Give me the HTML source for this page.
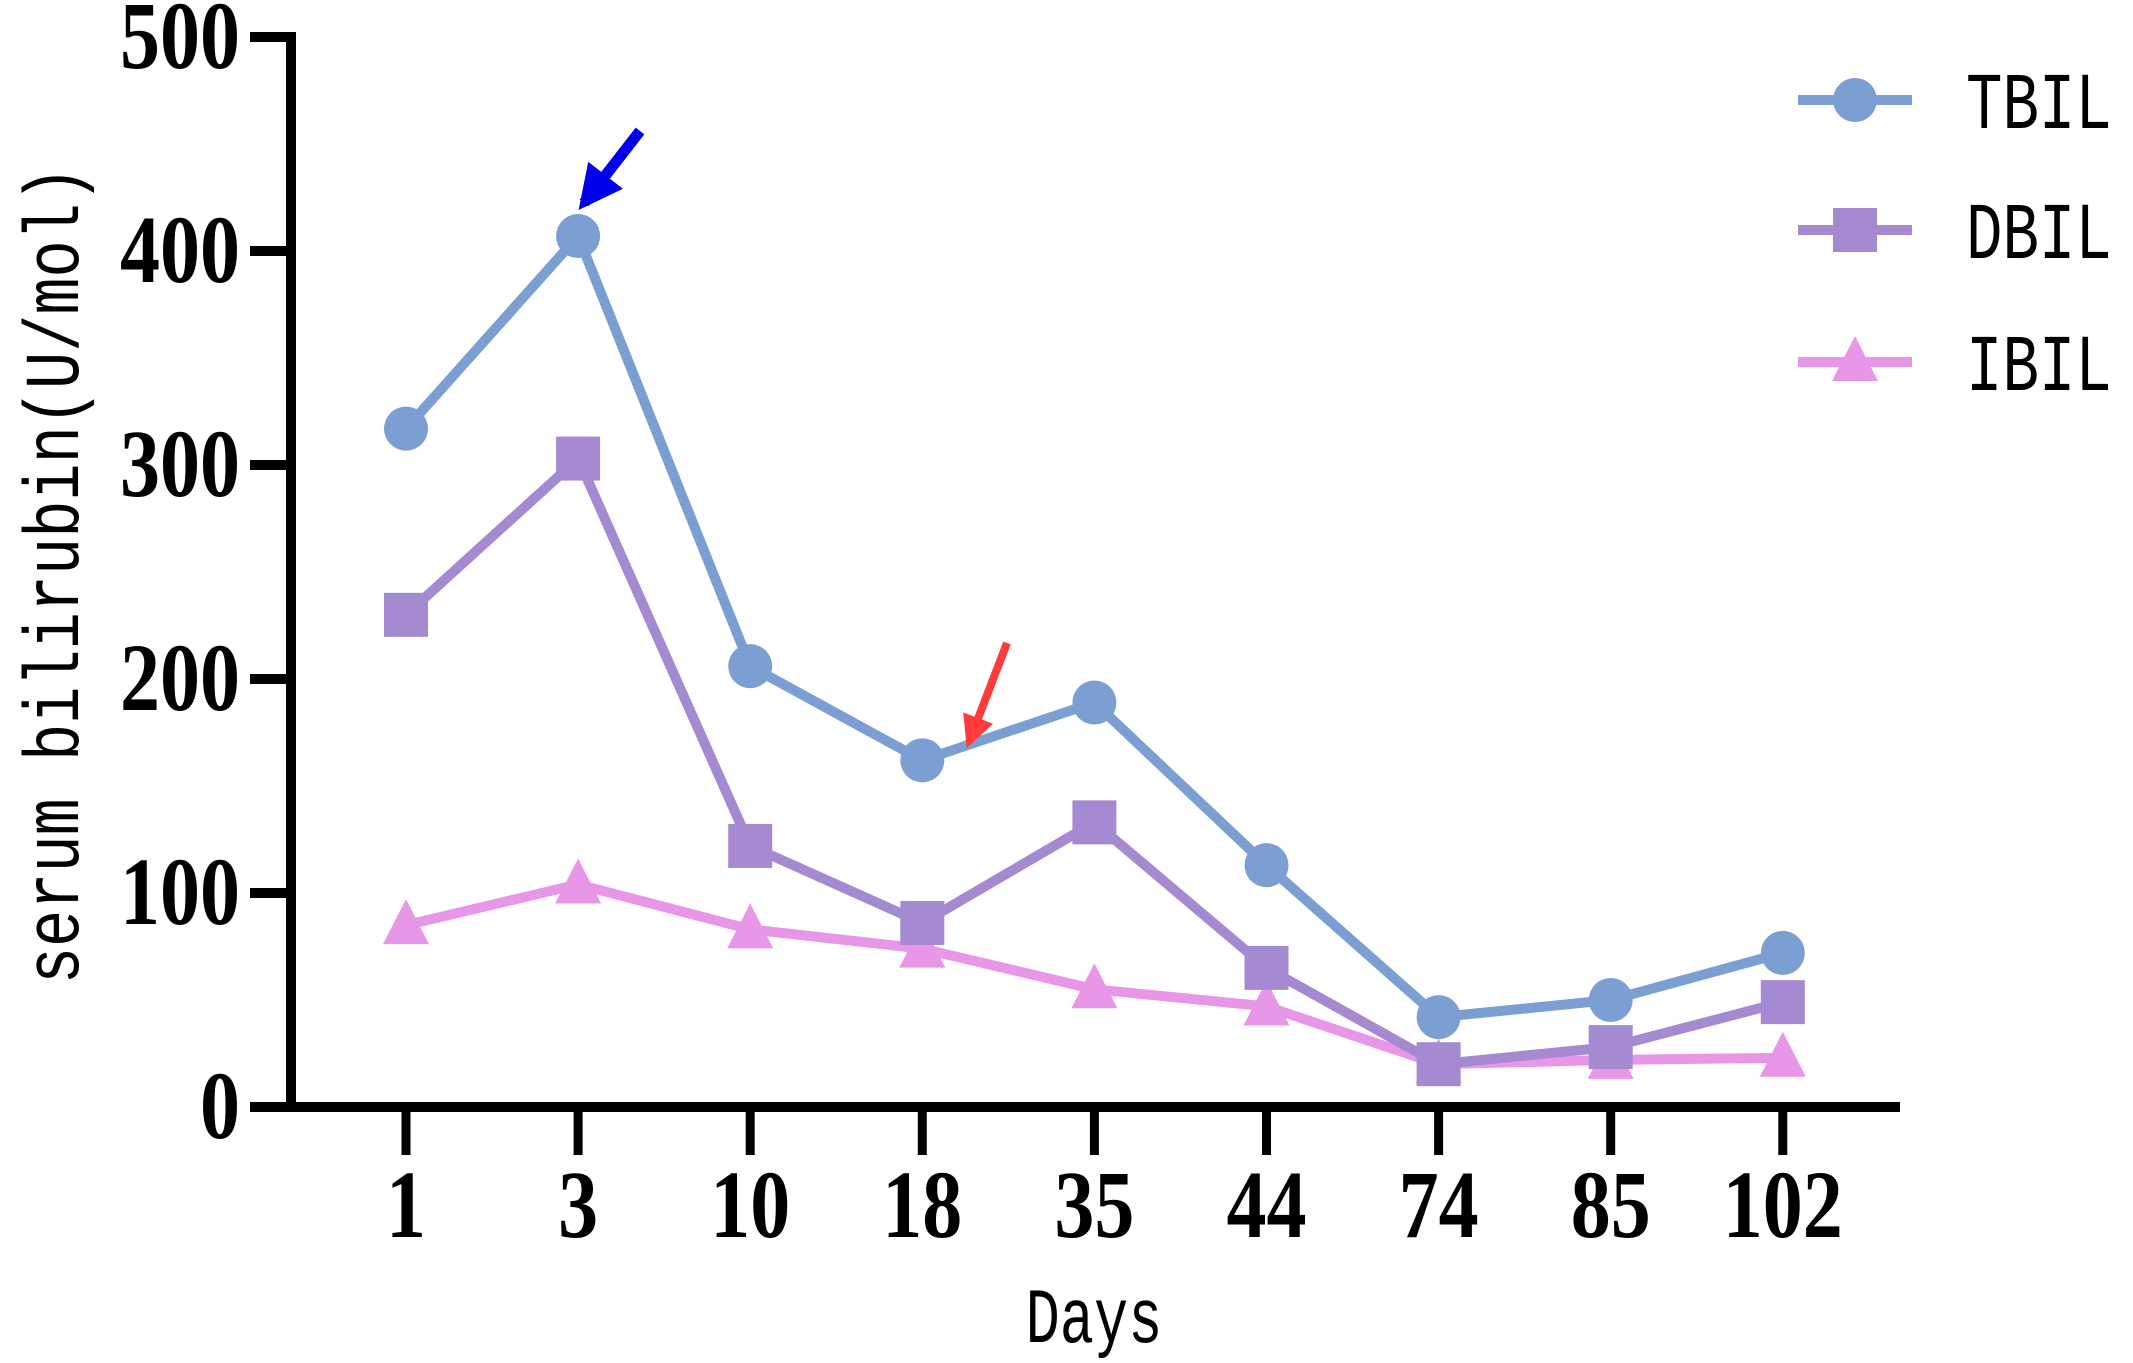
<!DOCTYPE html>
<html><head><meta charset="utf-8"><style>
html,body{margin:0;padding:0;background:#fff;}
svg{display:block;}
</style></head><body>
<svg id="chart" width="2133" height="1363" viewBox="0 0 2133 1363" xmlns="http://www.w3.org/2000/svg">
<defs>
<marker id="ahBlue" markerWidth="4" markerHeight="4" refX="3.2" refY="2" orient="auto" markerUnits="strokeWidth"><path d="M0,0 L4,2 L0,4 Z" fill="#0000ee"/></marker>
<marker id="ahRed" markerWidth="4" markerHeight="4" refX="3.2" refY="2" orient="auto" markerUnits="strokeWidth"><path d="M0,0 L4,2 L0,4 Z" fill="#ff3b3b"/></marker>
</defs>
<g id="plot"></g>
</svg>
<script>
const categories = ["1","3","10","18","35","44","74","85","102"];
const tbil = [317,407,206,162,189,113,42,50,72];
const dbil = [230,303,122,86,133,65,20,28,49];
const ibil = [85,104,83,74,55,47,20,22,23];
const yTicks = [0,100,200,300,400,500];
const seriesNames = ["TBIL","DBIL","IBIL"];

const NS="http://www.w3.org/2000/svg";
const g=document.getElementById('plot');
const X0=406, DX=172.1, Y0=1107, Y500=37;
function xs(i){return X0+i*DX;}
function ys(v){return Y0-(v/500)*(Y0-Y500);}
function mk(tag,attrs,parent){const e=document.createElementNS(NS,tag);for(const k in attrs)e.setAttribute(k,attrs[k]);(parent||g).appendChild(e);return e;}

let e;
e=mk('line',{x1:291,y1:Y500-5,x2:291,y2:Y0+5,stroke:'#000','stroke-width':10});


e=mk('line',{x1:250,y1:Y0,x2:1900,y2:Y0,stroke:'#000','stroke-width':10});


yTicks.forEach(v=>{
  let t=mk('line',{x1:250,y1:ys(v),x2:291,y2:ys(v),stroke:'#000','stroke-width':10});
  
  
  let l=mk('text',{x:0,y:0,'text-anchor':'end','font-family':'Liberation Serif, serif','font-weight':'bold','font-size':80,transform:`translate(240,${ys(v)+31}) scale(1,1.2)`});
  l.textContent=v;
  
  
});
categories.forEach((c,i)=>{
  let t=mk('line',{x1:xs(i),y1:Y0,x2:xs(i),y2:1155,stroke:'#000','stroke-width':9});
  
  
  let l=mk('text',{x:0,y:0,'text-anchor':'middle','font-family':'Liberation Serif, serif','font-weight':'bold','font-size':80,transform:`translate(${xs(i)},1237) scale(1,1.2)`});
  l.textContent=c;
  
  
});
e=mk('text',{x:0,y:0,'text-anchor':'middle','font-family':'Liberation Mono, monospace','font-size':60,transform:'translate(1094,1342) scale(0.95,1.3)'});
e.textContent='Days';


e=mk('text',{x:0,y:0,'text-anchor':'middle','font-family':'Liberation Mono, monospace','font-size':62,transform:'translate(78,575) rotate(-90) scale(1,1.25)'});
e.textContent='serum bilirubin(U/mol)';



const colors=['#7b9fd3','#a58ad2','#e897e8'];
const data=[tbil,dbil,ibil];
function marker(type,x,y,col,parent){
  let m;
  if(type===0) m=mk('circle',{cx:x,cy:y,r:22,fill:col},parent);
  else if(type===1) m=mk('rect',{x:x-22,y:y-22,width:44,height:44,fill:col},parent);
  else m=mk('polygon',{points:`${x},${y-26} ${x+23},${y+19} ${x-23},${y+19}`,fill:col},parent);
  return m;
}
[2,1,0].forEach(s=>{
  const sg=mk('g',{});
  
  
  const pts=data[s].map((v,i)=>xs(i)+','+ys(v)).join(' ');
  let pl=mk('polyline',{points:pts,fill:'none',stroke:colors[s],'stroke-width':10},sg);
  
  
  data[s].forEach((v,i)=>{
    let m=marker(s,xs(i),ys(v),colors[s],sg);
    
    
  });
});

const legY=[100,230,362];
seriesNames.forEach((n,s)=>{
  const lg=mk('g',{});
  
  
  mk('line',{x1:1798,y1:legY[s],x2:1912,y2:legY[s],stroke:colors[s],'stroke-width':10},lg);
  marker(s,1855,legY[s],colors[s],lg);
  let t=mk('text',{x:0,y:0,'font-family':'Liberation Mono, monospace','font-size':62,transform:`translate(1966,${legY[s]+28}) scale(0.98,1.3)`},lg);
  t.textContent=n;
});

e=mk('line',{x1:640,y1:131,x2:584,y2:203,stroke:'#0000ee','stroke-width':11,'marker-end':'url(#ahBlue)'});


e=mk('line',{x1:1007,y1:643,x2:969,y2:742,stroke:'#ff3b3b','stroke-width':8,'marker-end':'url(#ahRed)'});


</script>
</body></html>
